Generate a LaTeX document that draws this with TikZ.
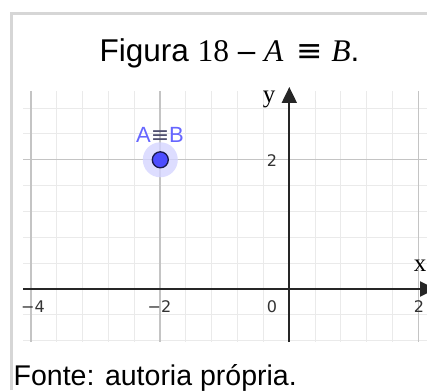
\documentclass[tikz,border=0pt]{standalone}
\usepackage{fontspec}
\setmainfont{Liberation Sans}
\newfontfamily\tickfont{DejaVu Sans}
\newfontfamily\serifaxis{Liberation Serif}
\usetikzlibrary{arrows.meta}
\definecolor{framegray}{HTML}{D6D6D6}
\definecolor{minorgrid}{HTML}{EAEAEA}
\definecolor{majorgrid}{HTML}{C4C4C4}
\definecolor{axiscol}{HTML}{262626}
\definecolor{tickcol}{HTML}{333333}
\definecolor{ptfill}{HTML}{4D4DFF}
\definecolor{ptline}{HTML}{1A1A4D}
\definecolor{halo}{HTML}{D4D4FF}
\definecolor{lblblue}{HTML}{6666FF}
\definecolor{eqgray}{HTML}{505070}
\tikzset{
  minorline/.style={draw=minorgrid, line width=1pt},
  majorline/.style={draw=majorgrid, line width=1.3pt},
  axisline/.style={draw=axiscol, line width=2pt, -{Triangle[width=15pt,length=16pt]}},
  ticklabel/.style={text=tickcol, font=\tickfont\fontsize{16}{16}\selectfont, anchor=base, inner sep=0pt},
  axislabel/.style={text=black, font=\serifaxis\fontsize{25}{25}\selectfont, anchor=base, inner sep=0pt},
}
\begin{document}
\begin{tikzpicture}[x=1pt,y=-1pt]
\useasboundingbox (0,0) rectangle (427,390);
\clip (0,0) rectangle (427,390);
% frame
\draw[framegray, line width=2.7pt] (11.5,390) -- (11.5,13.8) -- (430,13.8);
% title
\node[anchor=base, inner sep=0pt, font=\fontsize{31.5}{31.5}\selectfont] (title) at (229.5,61.5)
  {Figura {\serifaxis 18} – {\serifaxis\itshape A}\hspace{13pt}{\tickfont ≡} {\serifaxis\itshape B}.};
% grid
\begin{scope}
\clip (23,91) rectangle (427,342);
\foreach \k in {-10,...,6}{
  \draw[minorline] ({289.3+25.84*\k},91) -- ({289.3+25.84*\k},342);
}
\foreach \k in {-2,...,8}{
  \draw[minorline] (23,{289-25.84*\k}) -- (427,{289-25.84*\k});
}
\foreach \k in {-10,-5,5}{
  \draw[majorline] ({289.3+25.84*\k},91) -- ({289.3+25.84*\k},342);
}
\draw[majorline] (23,159.8) -- (427,159.8);
\end{scope}
% axes
\coordinate (xs) at (23,289);
\coordinate (xe) at (436,289);
\coordinate (ys) at (289.3,342);
\coordinate (ye) at (289.3,87);
\draw[axisline] (xs) -- (xe);
\draw[axisline] (ys) -- (ye);
\node[axislabel] (xl) at (420,271) {x};
\node[axislabel] (yl) at (269,103) {y};
% tick labels
\node[ticklabel] (tm4) at (33,312.5) {−4};
\node[ticklabel] (tm2) at (159.5,312.5) {−2};
\node[ticklabel] (t0) at (272,312.5) {0};
\node[ticklabel] (t2) at (419,312.5) {2};
\node[ticklabel] (ty2) at (272,166.5) {2};
% point
\node[circle, fill=halo, opacity=0.8, minimum size=35pt, inner sep=0pt] (halo) at (160.3,159.8) {};
\node[circle, fill=ptfill, draw=ptline, line width=1.3pt, minimum size=16pt, inner sep=0pt] (P) at (160.3,159.8) {};
\node[anchor=base, inner sep=0pt, text=lblblue, font=\fontsize{22}{22}\selectfont] (lbl) at (160,142.5) {A{\tickfont\color{eqgray}≡}B};
% source
\node[anchor=base west, inner sep=0pt, font=\fontsize{28.5}{28.5}\selectfont] (src) at (13.5,385) {Fonte: autoria própria.};
\end{tikzpicture}
\end{document}
